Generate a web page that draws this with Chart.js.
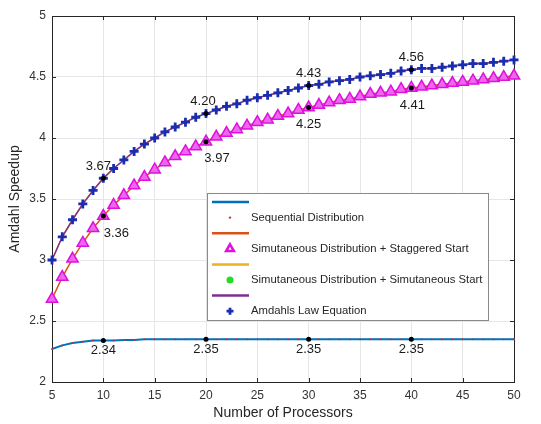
<!DOCTYPE html>
<html lang="en">
<head>
<meta charset="UTF-8">
<title>Amdahl Speedup</title>
<script src="https://cdn.jsdelivr.net/npm/chart.js"></script>
<style>
  html, body { margin: 0; padding: 0; background: #fff; }
  .wrap { width: 541px; height: 424px; position: relative; }
</style>
</head>
<body>
<div class="wrap"><canvas id="speedupChart"></canvas></div>
<script>
// number of processors on the x axis
const processors = [5, 6, 7, 8, 9, 10, 11, 12, 13, 14, 15, 16, 17, 18, 19, 20, 21, 22, 23, 24, 25, 26, 27,
    28, 29, 30, 31, 32, 33, 34, 35, 36, 37, 38, 39, 40, 41, 42, 43, 44, 45, 46, 47, 48, 49, 50];

// speedup
const sequential = [2.27, 2.30, 2.32, 2.33, 2.34, 2.34, 2.34, 2.345, 2.345, 2.35, 2.35, 2.35, 2.35, 2.35,
    2.35, 2.35, 2.35, 2.35, 2.35, 2.35, 2.35, 2.35, 2.35, 2.35, 2.35, 2.35, 2.35, 2.35, 2.35, 2.35, 2.35,
    2.35, 2.35, 2.35, 2.35, 2.35, 2.35, 2.35, 2.35, 2.35, 2.35, 2.35, 2.35, 2.35, 2.35, 2.35];
const staggered = [2.68, 2.86, 3.01, 3.14, 3.26, 3.36, 3.45, 3.53, 3.61, 3.68, 3.74, 3.80, 3.85, 3.89,
    3.93, 3.97, 4.01, 4.04, 4.07, 4.10, 4.13, 4.15, 4.18, 4.20, 4.23, 4.25, 4.27, 4.29, 4.31, 4.32, 4.34,
    4.36, 4.37, 4.38, 4.40, 4.41, 4.42, 4.43, 4.44, 4.45, 4.46, 4.47, 4.48, 4.49, 4.50, 4.51];
const amdahl = [3.00, 3.19, 3.33, 3.46, 3.57, 3.67, 3.75, 3.82, 3.89, 3.95, 4.00, 4.05, 4.09, 4.13,
    4.17, 4.20, 4.23, 4.26, 4.28, 4.31, 4.33, 4.35, 4.37, 4.39, 4.41, 4.43, 4.44, 4.46, 4.47, 4.48, 4.50,
    4.51, 4.52, 4.53, 4.55, 4.56, 4.57, 4.57, 4.58, 4.59, 4.60, 4.61, 4.61, 4.62, 4.63, 4.64];
// simultaneous start coincides with the Amdahl curve (hidden behind it)
const simultaneous = amdahl;

// processor counts that carry a value label
const markedProcessors = [10, 20, 30, 40];

const xTicks = { min: 5, max: 50, step: 5 };
const yTicks = { min: 2, max: 5, step: 0.5 };

const toPoints = vals => processors.map((n, i) => ({ x: n, y: vals[i] }));
const valueAt = (vals, n) => vals[processors.indexOf(n)];

const FONT = '"Liberation Sans", Arial, sans-serif';

const seriesSets = [
    {
        label: 'Sequential Distribution',
        data: toPoints(sequential),
        borderColor: '#0072BD', borderWidth: 2,
        pointStyle: 'circle', pointRadius: 1, pointBorderWidth: 0,
        pointBackgroundColor: '#d0302a', pointBorderColor: '#d0302a',
        order: 4
    },
    {
        label: 'Simutaneous Distribution + Staggered Start',
        data: toPoints(staggered),
        borderColor: '#D95319', borderWidth: 1.5,
        pointStyle: 'triangle', pointRadius: 6.5, pointBorderWidth: 1.5,
        pointBackgroundColor: '#ee66ee', pointBorderColor: '#dd10dd',
        order: 3
    },
    {
        label: 'Simutaneous Distribution + Simutaneous Start',
        data: toPoints(simultaneous),
        borderColor: '#EDB120', borderWidth: 1.5,
        pointStyle: 'circle', pointRadius: 2, pointBorderWidth: 0,
        pointBackgroundColor: '#22dd22', pointBorderColor: '#22dd22',
        order: 2
    },
    {
        label: 'Amdahls Law Equation',
        data: toPoints(amdahl),
        borderColor: '#7E2F8E', borderWidth: 1.5,
        pointStyle: 'cross', pointRadius: 4.5, pointBorderWidth: 2.8,
        pointBackgroundColor: '#1a2db0', pointBorderColor: '#1a2db0',
        order: 1
    }
];
seriesSets.forEach(ds => { ds.clip = false; });

// black dots at the labelled points
const markerSet = {
    label: 'marks',
    data: [amdahl, staggered, sequential].flatMap(vals =>
        markedProcessors.map(n => ({ x: n, y: valueAt(vals, n) }))),
    showLine: false,
    pointRadius: 2.5, pointBorderWidth: 0,
    pointBackgroundColor: '#000', pointBorderColor: '#000',
    order: 0
};

// where each group of value labels goes, relative to its point
const labelStyle = [
    { values: amdahl, dx: [-5, -3, 0, 0], dy: -12 },
    { values: staggered, dx: [13, 11, 0, 1], dy: 17 },
    { values: sequential, dx: [0, 0, 0, 0], dy: 10 }
];

const valueLabels = {
    id: 'valueLabels',
    afterDatasetsDraw(chart) {
        const { ctx, scales: { x, y } } = chart;
        ctx.save();
        ctx.font = '13px ' + FONT;
        ctx.fillStyle = '#1a1a1a';
        ctx.textAlign = 'center';
        ctx.textBaseline = 'middle';
        labelStyle.forEach(g => {
            markedProcessors.forEach((n, k) => {
                const v = valueAt(g.values, n);
                ctx.fillText(v.toFixed(2), x.getPixelForValue(n) + g.dx[k], y.getPixelForValue(v) + g.dy);
            });
        });
        ctx.restore();
    }
};

// box round the plot and inward tick marks, like matlab "box on"
const axesBox = {
    id: 'axesBox',
    beforeDatasetsDraw(chart) {
        const { ctx, chartArea: a, scales: { x, y } } = chart;
        ctx.save();
        ctx.strokeStyle = '#262626';
        ctx.lineWidth = 1;
        ctx.strokeRect(a.left + 0.5, a.top + 0.5, a.right - a.left, a.bottom - a.top);
        ctx.beginPath();
        x.ticks.forEach(t => {
            const px = Math.round(x.getPixelForValue(t.value)) + 0.5;
            ctx.moveTo(px, a.bottom); ctx.lineTo(px, a.bottom - 4);
            ctx.moveTo(px, a.top); ctx.lineTo(px, a.top + 4);
        });
        y.ticks.forEach(t => {
            const py = Math.round(y.getPixelForValue(t.value)) + 0.5;
            ctx.moveTo(a.left, py); ctx.lineTo(a.left + 4, py);
            ctx.moveTo(a.right, py); ctx.lineTo(a.right - 4, py);
        });
        ctx.stroke();
        ctx.restore();
    }
};

// matlab style legend: one row for the line, one row for the marker + name
function drawMarker(ctx, ds, cx, cy) {
    ctx.fillStyle = ds.pointBackgroundColor;
    ctx.strokeStyle = ds.pointBorderColor;
    ctx.lineWidth = ds.pointBorderWidth;
    if (Chart.helpers && Chart.helpers.drawPoint) {
        Chart.helpers.drawPoint(ctx, { pointStyle: ds.pointStyle, radius: ds.pointRadius, borderWidth: ds.pointBorderWidth, rotation: 0 }, cx, cy);
        return;
    }
    ctx.beginPath();
    ctx.arc(cx, cy, ds.pointRadius, 0, Math.PI * 2);
    ctx.fill();
}

const boxLegend = {
    id: 'boxLegend',
    afterDraw(chart) {
        const { ctx, chartArea: a } = chart;
        const left = a.left + 155, top = a.top + 177, w = 281, h = 127, row = 15.6;
        ctx.save();
        ctx.fillStyle = '#fff';
        ctx.fillRect(left, top, w, h);
        ctx.strokeStyle = '#8a8a8a';
        ctx.lineWidth = 1;
        ctx.strokeRect(left + 0.5, top + 0.5, w, h);
        ctx.font = '11.3px ' + FONT;
        ctx.textBaseline = 'middle';
        ctx.textAlign = 'left';
        seriesSets.forEach((ds, i) => {
            const yLine = top + 9 + row * 2 * i;
            const yMark = yLine + row;
            ctx.strokeStyle = ds.borderColor;
            ctx.lineWidth = 2.5;
            ctx.beginPath();
            ctx.moveTo(left + 5, yLine);
            ctx.lineTo(left + 42, yLine);
            ctx.stroke();
            const legendDs = Object.assign({}, ds);
            if (ds.pointStyle === 'circle') legendDs.pointRadius = ds.pointRadius < 2 ? 1.2 : 3.5;
            if (ds.pointStyle === 'triangle') {
                legendDs.pointBackgroundColor = '#fff';
                legendDs.pointBorderWidth = 2.5;
                legendDs.pointRadius = 4.5;
            }
            if (ds.pointStyle === 'cross') legendDs.pointRadius = 3.5;
            drawMarker(ctx, legendDs, left + 23, yMark);
            ctx.fillStyle = '#262626';
            ctx.fillText(ds.label, left + 44, yMark);
        });
        ctx.restore();
    }
};

new Chart(document.getElementById('speedupChart'), {
    type: 'line',
    data: { datasets: [markerSet, ...seriesSets] },
    options: {
        responsive: true,
        maintainAspectRatio: false,
        animation: false,
        devicePixelRatio: 1,
        layout: { padding: { top: 16, right: 27, left: 0, bottom: 0 } },
        elements: { line: { tension: 0 } },
        plugins: { legend: { display: false }, tooltip: { enabled: false } },
        scales: {
            x: {
                type: 'linear',
                min: xTicks.min, max: xTicks.max,
                afterFit: s => { s.height = 42; },
                ticks: { stepSize: xTicks.step, padding: 6, color: '#333', font: { family: FONT, size: 12 },
                    callback: v => String(v) },
                grid: { color: '#e6e6e6', drawTicks: false },
                border: { display: true, color: '#262626' },
                title: { display: true, text: 'Number of Processors', color: '#262626',
                    font: { family: FONT, size: 14 }, padding: { top: 0, bottom: 2 } }
            },
            y: {
                min: yTicks.min, max: yTicks.max,
                afterFit: s => { s.width = 52; },
                ticks: { stepSize: yTicks.step, padding: 6, color: '#333', font: { family: FONT, size: 12 },
                    callback: v => String(v) },
                grid: { color: '#e6e6e6', drawTicks: false },
                border: { display: true, color: '#262626' },
                title: { display: true, text: 'Amdahl Speedup', color: '#262626',
                    font: { family: FONT, size: 14 }, padding: { top: 7, bottom: 0 } }
            }
        }
    },
    plugins: [valueLabels, axesBox, boxLegend]
});
</script>
</body>
</html>
